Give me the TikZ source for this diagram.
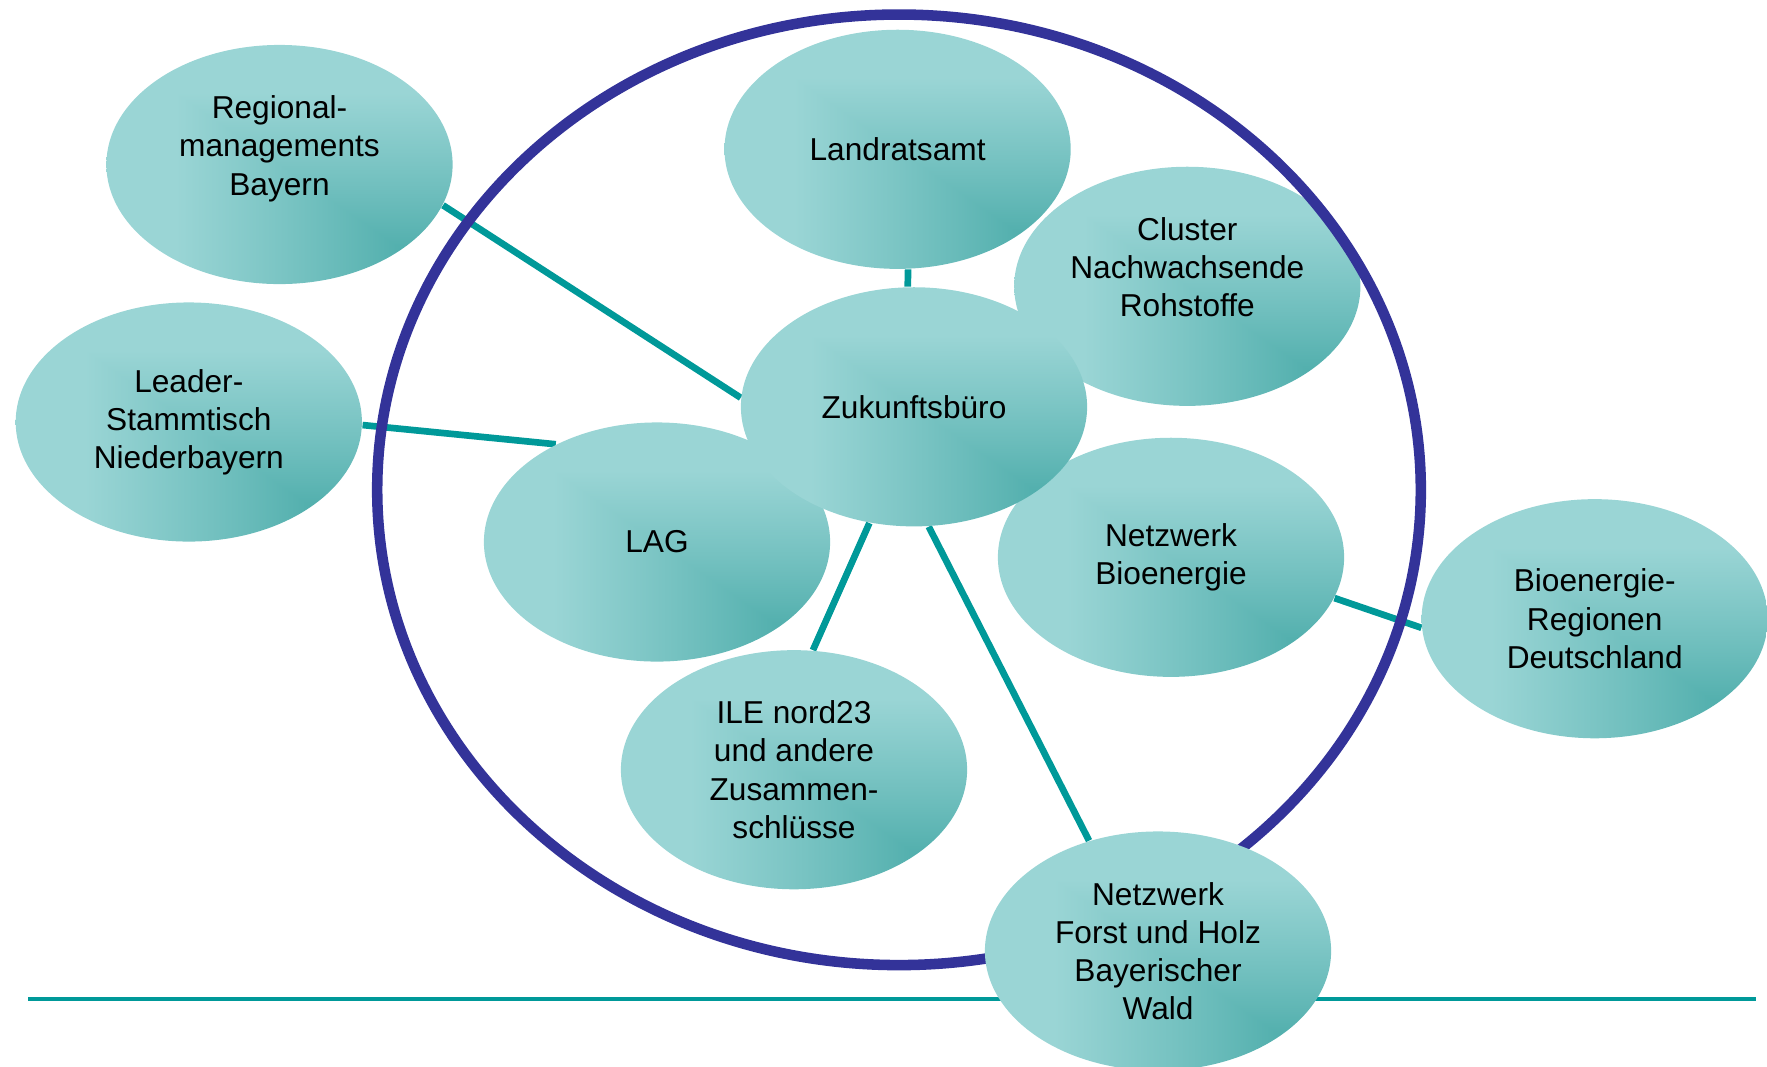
\documentclass[tikz,border=0pt]{standalone}
\usepackage{fontspec}
\setmainfont{Liberation Sans}
\usepackage{xcolor}
\usetikzlibrary{shapes.geometric,backgrounds}

\definecolor{ringblau}{RGB}{51,51,153}
\definecolor{linie}{RGB}{0,153,153}

\pgfdeclarefunctionalshading{blobshade}{\pgfpointorigin}{\pgfpoint{100bp}{100bp}}{}{
  exch 100 exch sub
  2 copy lt {exch} if pop
  100 div 0.2 sub 0.45 div
  dup 0 lt {pop 0} if
  dup 1 gt {pop 1} if
  0.8 exp
  dup dup
  0.4392 mul 0.1647 add
  3 1 roll
  0.2314 mul 0.6039 add
  exch
  0.2431 mul 0.5922 add
}

\begin{document}
\begin{tikzpicture}[x=0.01cm, y=-0.01cm,
    blob/.style={ellipse, shade, shading=blobshade, minimum width=3.46cm, minimum height=2.39cm, inner sep=0pt, align=center, font=\fontsize{9pt}{10.85pt}\selectfont},
    ring/.style={ellipse, draw=ringblau, line width=3pt, minimum width=10.43cm, minimum height=9.5cm, inner sep=0pt},
    verbindung/.style={draw=linie, line width=1.9pt},
    hline/.style={draw=linie, line width=1.1pt}]
    \useasboundingbox (0,0) rectangle (1767,1066);

    \node (reg) [blob] at (279.5,164.5) {Regional-\\managements\\Bayern\\\mbox{}};
    \node (lead) [blob] at (188.8,422) {Leader-\\Stammtisch\\Niederbayern};
    \node (land) [blob] at (897.6,149.3) {Landratsamt};
    \node (clus) [blob] at (1187.3,286.3) {Cluster\\Nachwachsende\\Rohstoffe\\\mbox{}};
    \node (lag) [blob] at (657,542) {LAG};
    \node (nbio) [blob] at (1171,557.3) {Netzwerk\\Bioenergie};
    \node (zuk) [blob] at (914,406.8) {Zukunftsbüro};
    \node (breg) [blob] at (1594.7,618.7) {Bioenergie-\\Regionen\\Deutschland};
    \node (ile) [blob] at (794,769.7) {ILE nord23\\und andere\\Zusammen-\\schlüsse};
    \node (kreis) [ring] at (899,489.8) {};
    \node (forst) [blob] at (1158,951) {Netzwerk\\Forst und Holz\\Bayerischer\\Wald};

    \coordinate (links) at (28,999);
    \coordinate (rechts) at (1756,999);

    \begin{scope}[on background layer]
        \draw[hline] (links) -- (rechts);
        \draw[verbindung] (reg.-14.6) -- (zuk.177.8);
        \draw[verbindung] (lead.-1) -- (lag.136.7);
        \draw[verbindung] (land.-85.5) -- (zuk.93.4);
        \draw[verbindung] (zuk.-111) -- (ile.81.6);
        \draw[verbindung] (zuk.-83.6) -- (forst.122.7);
        \draw[verbindung] (nbio.-14.6) -- (breg.-177.4);
    \end{scope}
\end{tikzpicture}
\end{document}
